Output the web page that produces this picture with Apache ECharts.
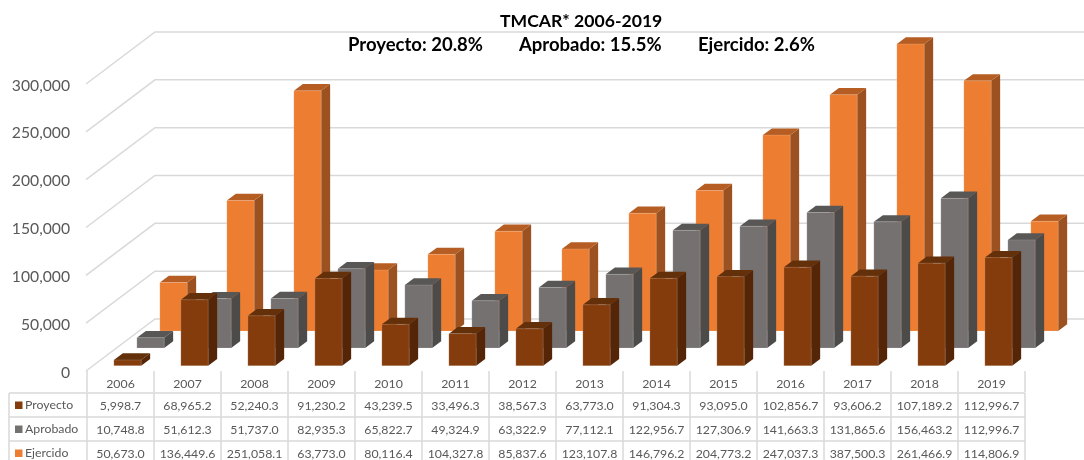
<!DOCTYPE html>
<html>
<head>
<meta charset="utf-8">
<style>
  html, body { margin: 0; padding: 0; background: #fff; }
  #main { width: 1084px; height: 460px; overflow: hidden; }
</style>
<script src="https://cdn.jsdelivr.net/npm/echarts@6/dist/echarts.min.js"></script>
</head>
<body>
<div id="main"></div>
<script>
const years = ["2006","2007","2008","2009","2010","2011","2012","2013","2014","2015","2016","2017","2018","2019"];
const proyecto = [5998.7,68965.2,52240.3,91230.2,43239.5,33496.3,38567.3,63773.0,91304.3,93095.0,102856.7,93606.2,107189.2,112996.7];
const aprobado = [10748.8,51612.3,51737.0,82935.3,65822.7,49324.9,63322.9,77112.1,122956.7,127306.9,141663.3,131865.6,156463.2,112996.7];
const ejercido = [50673.0,136449.6,251058.1,63773.0,80116.4,104327.8,85837.6,123107.8,146796.2,204773.2,247037.3,387500.3,261466.9,114806.9];
const rowNames = ["Proyecto","Aprobado","Ejercido"];
const yTicks = [0,50000,100000,150000,200000,250000,300000];
const yMax = 300000;

const FONT = "Lato";
const TEXT = "#595959";
const LINE = "#d9d9d9";

// fake 3d: floor depth of the plot and the look of each row of bars
const DEPTH = [69, -52];
const BAR_W = 27.3;
const SIDE = [9, -6.7];
const looks = [
  { name: "Proyecto", values: proyecto, dx: 7, dy: -5.3, front: "#843c0c", top: "#63300a", side: "#542507" },
  { name: "Aprobado", values: aprobado, dx: 30, dy: -23, front: "#767171", top: "#595656", side: "#4d4a4a" },
  { name: "Ejercido", values: ejercido, dx: 53, dy: -40, front: "#ed7d31", top: "#b55d22", side: "#9c5220" }
];

const ROW_TOP = 393, ROW_H = 24, TABLE_LEFT = 9, PLOT_LEFT = 87, PLOT_RIGHT = 1025;

const fmt = (v) => v.toLocaleString("en-US", { minimumFractionDigits: 1, maximumFractionDigits: 1 });

// one 3d bar, bars over the axis max get cut off like in the original
const renderBar = (look) => (params, api) => {
  const i = api.value(0);
  const val = Math.min(api.value(1), yMax);
  const base = api.coord([i, 0]);
  const head = api.coord([i, val]);
  const x0 = base[0] + look.dx - BAR_W / 2;
  const x1 = x0 + BAR_W;
  const yb = base[1] + look.dy;
  const yt = head[1] + look.dy;
  const [sx, sy] = SIDE;
  return {
    type: "group",
    children: [
      { type: "polygon", shape: { points: [[x1, yt], [x1 + sx, yt + sy], [x1 + sx, yb + sy], [x1, yb]] }, style: { fill: look.side } },
      { type: "polygon", shape: { points: [[x0, yt], [x0 + sx, yt + sy], [x1 + sx, yt + sy], [x1, yt]] }, style: { fill: look.top } },
      { type: "rect", shape: { x: x0, y: yt, width: BAR_W, height: yb - yt }, style: { fill: look.front, stroke: "rgba(255,255,255,0.15)", lineWidth: 1 } }
    ]
  };
};

// gridline: runs across the floor side wall, then along the back wall
const renderWall = (params, api) => {
  const p = api.coord([0, api.value(0)]);
  const fx = PLOT_LEFT - 1;
  const bx = fx + DEPTH[0];
  const by = p[1] + DEPTH[1];
  return {
    type: "polyline",
    shape: { points: [[fx, p[1]], [bx, by], [PLOT_RIGHT + DEPTH[0], by]] },
    style: { stroke: LINE, lineWidth: 1.5, fill: "none" }
  };
};

// table cell under a category
const renderCell = (params, api) => {
  const p = api.coord([api.value(0), 0]);
  const r = api.value(1);
  return {
    type: "text",
    style: {
      x: p[0],
      y: ROW_TOP + ROW_H * r + ROW_H / 2 + 1,
      text: fmt(api.value(2)),
      textAlign: "center",
      textVerticalAlign: "middle",
      fontFamily: FONT,
      fontSize: 12.3,
      fill: TEXT
    }
  };
};

const cellData = [];
looks.forEach((look, r) => look.values.forEach((v, i) => cellData.push([i, r, v])));

// table lines and first column
const tableGraphic = [];
const hline = (y, x0) => tableGraphic.push({ type: "line", shape: { x1: x0, y1: y, x2: PLOT_RIGHT, y2: y }, style: { stroke: LINE, lineWidth: 1.5 } });
const vline = (x) => tableGraphic.push({ type: "line", shape: { x1: x, y1: ROW_TOP, x2: x, y2: 460 }, style: { stroke: LINE, lineWidth: 1.5 } });
hline(ROW_TOP, TABLE_LEFT);
hline(ROW_TOP + ROW_H, TABLE_LEFT);
hline(ROW_TOP + ROW_H * 2, TABLE_LEFT);
vline(TABLE_LEFT);
years.forEach((y, i) => vline(PLOT_LEFT + i * (PLOT_RIGHT - PLOT_LEFT) / years.length));
vline(PLOT_RIGHT);
rowNames.forEach((name, r) => {
  const cy = ROW_TOP + ROW_H * r + ROW_H / 2;
  tableGraphic.push({ type: "rect", shape: { x: 15, y: cy - 3.5, width: 7.5, height: 7.5 }, style: { fill: looks[r].front } });
  tableGraphic.push({ type: "text", style: { x: 25, y: cy + 0.5, text: name, textVerticalAlign: "middle", fontFamily: FONT, fontSize: 12.3, fill: TEXT } });
});

const titleAt = (text, left, top, fontSize) => ({
  text, left, top, padding: 0,
  textStyle: { fontFamily: FONT, fontWeight: "bold", fontSize, color: "#000" }
});

const myChart = echarts.init(document.getElementById("main"));
myChart.setOption({
  animation: false,
  backgroundColor: "#fff",
  title: [
    titleAt("TMCAR* 2006-2019", 500, 12, 17.6),
    titleAt("Proyecto: 20.8%", 348, 36, 18.5),
    titleAt("Aprobado: 15.5%", 519, 36, 18.5),
    titleAt("Ejercido: 2.6%", 698, 36, 18.5)
  ],
  grid: { left: PLOT_LEFT, right: 1084 - PLOT_RIGHT, top: 84, bottom: 89 },
  xAxis: {
    type: "category",
    data: years,
    axisLine: { show: false },
    axisTick: { show: true, length: 21, lineStyle: { color: LINE, width: 1.5 } },
    axisLabel: { margin: 7, fontFamily: FONT, fontSize: 12.3, color: TEXT, interval: 0 }
  },
  yAxis: {
    type: "value",
    min: 0,
    max: yMax,
    interval: 50000,
    axisLine: { show: false },
    axisTick: { show: false },
    splitLine: { show: false },
    axisLabel: {
      margin: 17,
      fontFamily: FONT,
      fontSize: 15.7,
      color: TEXT,
      // nudge the numbers down a little, plain padding does not move them
      rich: { n: { fontFamily: FONT, fontSize: 15.7, color: TEXT, padding: [3, 0, 0, 0] } },
      formatter: (v) => "{n|" + v.toLocaleString("en-US") + "}"
    }
  },
  graphic: tableGraphic,
  series: [
    { type: "custom", name: "Pared", data: yTicks.map((v) => [v]), renderItem: renderWall, encode: { y: 0 }, silent: true, z: 1 },
    ...looks.slice().reverse().map((look, k) => ({
      type: "custom",
      name: look.name,
      data: look.values.map((v, i) => [i, v]),
      renderItem: renderBar(look),
      encode: { x: 0, y: 1 },
      z: 2 + k
    })),
    { type: "custom", name: "Tabla", data: cellData, renderItem: renderCell, encode: { x: 0 }, silent: true, z: 6 }
  ]
});
</script>
</body>
</html>
